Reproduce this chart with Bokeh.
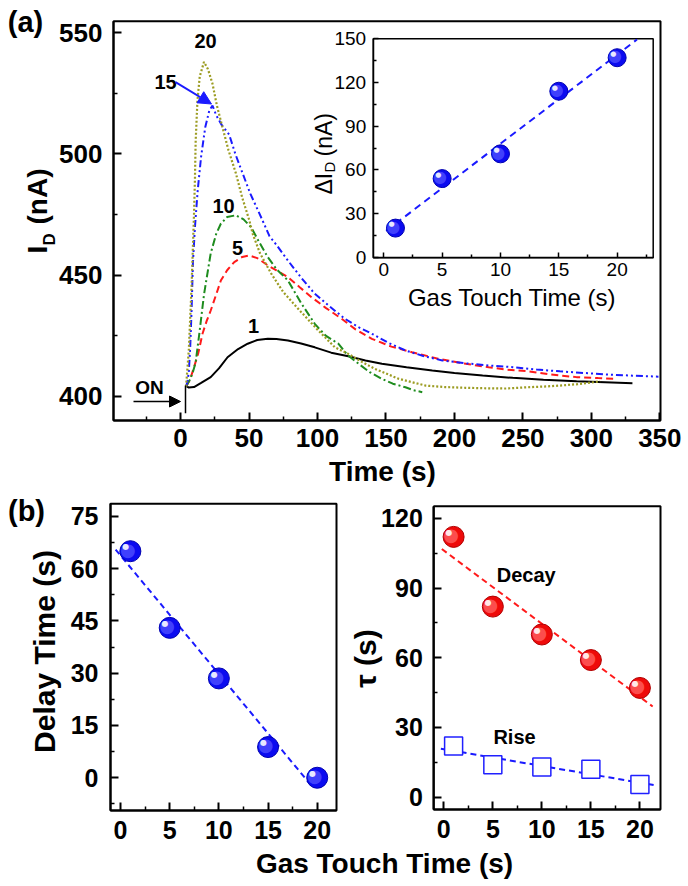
import math
import numpy as np
from bokeh.plotting import figure
from bokeh.models import Range1d, LinearAxis, FixedTicker, Label, Arrow, NormalHead
from bokeh.embed import file_html
from bokeh.resources import INLINE
from bokeh.core.properties import value

FONT = "Liberation Sans"

# ---------------- data ----------------
# panel (a): drain current transients, one per gas touch time (s)
c1_t = [3.7, 6, 9.8, 15, 22, 28, 34.3, 42, 49, 56, 63.7, 70, 78.4, 88, 98, 110, 122.5, 135, 147, 165, 183.8, 200, 220.6, 242.6, 265, 289.2, 310, 330]
c1_i = [404.4, 403.6, 403.8, 405.5, 407.9, 411.5, 416.1, 419.5, 421.7, 423.2, 423.7, 423.6, 423.0, 421.8, 420.2, 418.0, 416.5, 414.8, 413.4, 412.0, 410.6, 409.6, 408.6, 407.6, 406.8, 406.2, 405.8, 405.4]

c5_t = [4, 7, 9.8, 13, 16, 19, 22, 26, 29.4, 34, 39.2, 45, 50.2, 56, 63.8, 70, 78.4, 87, 95.6, 106, 117.6, 128, 139.7, 154, 169, 188, 208.3, 225, 237.7, 252.4, 270, 289.2, 305, 318]
c5_i = [404, 407, 412, 418, 425.8, 431, 435.4, 442, 447.8, 452, 455.4, 457.5, 458.1, 457, 454, 452, 449.2, 445, 440.9, 436.5, 432, 427.5, 423.7, 420.5, 418.2, 415.5, 413.4, 412, 411, 410.4, 409, 407.9, 407.5, 407.2]

c10_t = [4, 7, 9, 11, 13.5, 17.1, 22, 26, 29.4, 34, 40.4, 46, 51.5, 57, 63.7, 70, 78.4, 88, 98, 106, 115.2, 122, 130, 138, 147, 155, 164.2, 170, 176.5]
c10_i = [404, 407, 410, 414, 425, 442, 459, 467, 471.2, 474, 474.7, 473, 469.8, 464, 457.4, 452.5, 447.8, 438.5, 429.9, 425, 421.7, 417, 413.4, 410, 407.2, 405.2, 403.7, 402.5, 401.7]

c15_t = [4, 5, 6, 7, 8, 9, 10.5, 12.5, 15, 18, 21, 23.3, 26, 30, 35.5, 40, 45.3, 51, 57.6, 65, 70, 78.4, 88, 98, 109, 120, 130, 139.7, 152, 164.2, 178, 191.2, 208, 225.5, 242.6, 260, 277, 295, 311, 330, 349]
c15_i = [404, 406, 410, 420, 435, 455, 470, 485, 499, 511, 518, 520, 516, 512, 508, 500, 492, 483.5, 475.4, 466, 462.5, 456, 449, 442.3, 437, 432, 428.5, 425.8, 422, 418.9, 416.5, 414.8, 413.6, 412.7, 412, 411, 410.3, 409.6, 409, 408.5, 408.1]

c20_t = [4, 6, 8, 9.8, 10.5, 11, 12.3, 14, 17.1, 20, 23.3, 26.5, 30.6, 35, 40.4, 45, 50.2, 52.7, 58, 66.2, 75, 87, 100, 112.7, 122.5, 132, 142, 159.3, 179, 193, 208, 222, 237.7, 252.5, 265, 277, 290, 301.5, 306.4]
c20_i = [404, 419, 445, 475, 490, 505, 522, 532, 538, 535, 529, 520, 511, 501.5, 492, 482, 472.6, 467, 459, 450.6, 443, 435.4, 427.5, 420.2, 417.5, 414.3, 411.3, 407.2, 404.4, 403.8, 403.5, 403.3, 403.2, 403.7, 404, 404.4, 405, 405.8, 406.2]

curve_names = ["1", "5", "10", "15", "20"]

# inset and panel (b)
touch_time = [1, 5, 10, 15, 20]
delta_id = [20, 54, 71, 114, 137]
delay_time = [65, 43, 28.5, 8.8, 0]
tau_decay = [112, 82, 70, 59, 47]
tau_rise = [22, 14, 13, 12, 5.5]

# ticks
time_ticks = [0, 50, 100, 150, 200, 250, 300, 350]
time_minor = [-25, 25, 75, 125, 175, 225, 275, 325]
id_ticks = [400, 450, 500, 550]
id_minor = [425, 475, 525]
touch_ticks = [0, 5, 10, 15, 20]
touch_minor = [2.5, 7.5, 12.5, 17.5, 22.5]
delta_ticks = [0, 30, 60, 90, 120, 150]
delta_minor = [15, 45, 75, 105, 135]
delay_ticks = [0, 15, 30, 45, 60, 75]
delay_minor = [-7.5, 7.5, 22.5, 37.5, 52.5, 67.5]
tau_ticks = [0, 30, 60, 90, 120]
tau_minor = [15, 45, 75, 105]

# ---------------- colours ----------------
BLUE = "#1A1AFF"
RED = "#FF1A1A"
GREEN = "#1E8C1E"
OLIVE = "#9C9C22"

# ---------------- canvas ----------------
W, H = 688, 886
p = figure(width=W, height=H, x_range=Range1d(0, W), y_range=Range1d(0, H),
           output_backend="svg", toolbar_location=None,
           x_axis_type=None, y_axis_type=None,
           min_border_left=0, min_border_right=0, min_border_top=0, min_border_bottom=0)
p.xgrid.visible = False
p.ygrid.visible = False
p.outline_line_color = None
p.background_fill_color = "white"
p.border_fill_color = "white"


def P(rx, ry):
    """page pixel (from top-left) -> canvas coordinate of the base range"""
    return rx, H - ry


def add_panel(name, box, xr, yr):
    """register extra ranges so that data range (xr, yr) fills the pixel box"""
    L, T, R, B = box
    sx = (xr[1] - xr[0]) / (R - L)
    sy = (yr[1] - yr[0]) / (B - T)
    p.extra_x_ranges[name + "x"] = Range1d(xr[0] - L * sx, xr[1] + (W - R) * sx)
    p.extra_y_ranges[name + "y"] = Range1d(yr[0] - (H - B) * sy, yr[1] + T * sy)
    return dict(x_range_name=name + "x", y_range_name=name + "y")


def style_axis(ax, ticks, minor, size, bold=True, tin=8, min_in=4, standoff=10, lw=2):
    ax.ticker = FixedTicker(ticks=ticks, minor_ticks=minor)
    ax.axis_line_width = lw
    ax.axis_line_color = "black"
    ax.major_tick_in = tin
    ax.major_tick_out = 0
    ax.minor_tick_in = min_in
    ax.minor_tick_out = 0
    ax.major_tick_line_width = lw
    ax.minor_tick_line_width = 1.5
    ax.major_label_text_font = FONT
    ax.major_label_text_font_size = f"{size}px"
    ax.major_label_text_font_style = "bold" if bold else "normal"
    ax.major_label_text_color = "black"
    ax.major_label_standoff = standoff


def axes(rn, xr, yr, xt, xm, yt, ym, size, bold=True, tin=8, min_in=4, xs=10, ys=11, lw=2):
    bx = LinearAxis(fixed_location=yr[0], bounds=xr, **rn)
    style_axis(bx, xt, xm, size, bold, tin, min_in, xs, lw)
    p.add_layout(bx, "below")
    ly = LinearAxis(fixed_location=xr[0], bounds=yr, **rn)
    style_axis(ly, yt, ym, size, bold, tin, min_in, ys, lw)
    p.add_layout(ly, "left")


def frame(rn, xr, yr, lw=2, fill=None):
    p.quad(left=xr[0], right=xr[1], bottom=yr[0], top=yr[1], fill_color=fill,
           line_color="black", line_width=lw, **rn)


def spheres(xs, ys, size, base, rim, mid, hi, **rn):
    n = len(xs)
    p.scatter(xs, ys, size=size, fill_color=base, line_color=rim, line_width=1, **rn)
    p.text(xs, ys, text=["\u25CF"] * n, text_font=value("DejaVu Sans"),
           text_font_size=f"{int(size * 0.9)}px", text_color=mid, text_alpha=0.85,
           text_align="center", text_baseline="middle",
           x_offset=-size * 0.12, y_offset=-size * 0.10, **rn)
    p.text(xs, ys, text=["\u25CF"] * n, text_font=value("DejaVu Sans"),
           text_font_size=f"{int(size * 0.4)}px", text_color=hi,
           text_align="center", text_baseline="middle",
           x_offset=-size * 0.22, y_offset=-size * 0.20, **rn)


def lab(rx, ry, text, size, bold=True, align="center", baseline="middle", angle=0.0):
    x, y = P(rx, ry)
    p.add_layout(Label(x=x, y=y, text=text, text_font=FONT, text_font_size=f"{size}px",
                       text_font_style="bold" if bold else "normal", text_color="black",
                       text_align=align, text_baseline=baseline, angle=angle))


def arrow(r0, r1, color, lw, head):
    x0, y0 = P(*r0)
    x1, y1 = P(*r1)
    end = NormalHead(size=head, fill_color=color, line_color=color) if head else None
    p.add_layout(Arrow(end=end, x_start=x0, y_start=y0, x_end=x1, y_end=y1,
                       line_color=color, line_width=lw))


R90 = math.pi / 2

# ---------------- panel (a) ----------------
XA = (-49, 350.5)
YA = (390, 554.8)
ra = add_panel("a", (113, 20.7, 660, 420), XA, YA)
frame(ra, XA, YA)
p.line(c1_t, c1_i, line_color="black", line_width=2, **ra)
p.line(c5_t, c5_i, line_color=RED, line_width=2, line_dash="7 4", **ra)
p.line(c10_t, c10_i, line_color=GREEN, line_width=2, line_dash="8 3 2 3", **ra)
p.line(c15_t, c15_i, line_color=BLUE, line_width=2, line_dash="7 3 2 3 2 3", **ra)
p.line(c20_t, c20_i, line_color=OLIVE, line_width=2.2, line_dash="2 2", **ra)
axes(ra, XA, YA, time_ticks, time_minor, id_ticks, id_minor, 26, xs=8, ys=11)

for name, pos in zip(curve_names, [(253, 325), (237, 247.5), (223, 205), (165, 81.7), (205, 40.3)]):
    lab(pos[0], pos[1], name, 20)
lab(149, 386.5, "ON", 19)
lab(25, 21, "(a)", 29)
lab(382, 471, "Time (s)", 28)

arrow((133, 401), (180, 401), "black", 1.5, 11)
arrow((185, 385), (185, 412.7), "black", 1.5, None)
arrow((175, 81.7), (211, 103.5), BLUE, 2, 13)

# y title I_D (nA)
lab(37, 253, "I", 28, align="left", baseline="alphabetic", angle=R90)
lab(49, 245, "D", 17, align="left", baseline="alphabetic", angle=R90)
lab(37, 224, "(nA)", 28, align="left", baseline="alphabetic", angle=R90)

# ---------------- inset ----------------
IX = (-0.91, 23.09)
IY = (-0.4, 150)
ri = add_panel("i", (372.7, 38.3, 652.7, 257.3), IX, IY)
frame(ri, IX, IY, lw=1.5, fill="white")
k1, b1 = np.polyfit(touch_time, delta_id, 1)
fx = np.array([0.2, 21.7])
p.line(fx, k1 * fx + b1, line_color=BLUE, line_width=2, line_dash="7 5", **ri)
spheres(touch_time, delta_id, 18, "#0B0BF0", "#0000B0", "#4A4AFF", "#E8E8FF", **ri)
axes(ri, IX, IY, touch_ticks, touch_minor, delta_ticks, delta_minor, 19, bold=False,
     tin=5, min_in=3, xs=5, ys=7, lw=1.5)
lab(511.7, 297, "Gas Touch Time (s)", 24, bold=False)
lab(323, 194, "\u0394I", 23, bold=False, align="left", baseline="alphabetic", angle=R90)
lab(329, 172, "D", 15, bold=False, align="left", baseline="alphabetic", angle=R90)
lab(323, 156, "(nA)", 23, bold=False, align="left", baseline="alphabetic", angle=R90)

# ---------------- panel (b) left: delay time ----------------
XB1 = (-1.02, 21.96)
YB1 = (-9.4, 78.6)
rb1 = add_panel("b1", (110, 503.3, 336, 810), XB1, YB1)
frame(rb1, XB1, YB1)
k2, b2 = np.polyfit(touch_time, delay_time, 1)
fx2 = np.array([-0.5, 19.5])
p.line(fx2, k2 * fx2 + b2, line_color=BLUE, line_width=2, line_dash="6 4", **rb1)
spheres(touch_time, delay_time, 21, "#0B0BF0", "#0000B0", "#4A4AFF", "#E8E8FF", **rb1)
axes(rb1, XB1, YB1, touch_ticks, touch_minor[:-1], delay_ticks, delay_minor, 25, xs=10, ys=12)
lab(26, 510, "(b)", 29)
lab(44, 651, "Delay Time (s)", 30, angle=R90)

# ---------------- panel (b) right: time constants ----------------
XB2 = (-1.02, 22.1)
YB2 = (-5.3, 125.2)
rb2 = add_panel("b2", (433.3, 505.7, 660, 809), XB2, YB2)
frame(rb2, XB2, YB2)
k3, b3 = np.polyfit(touch_time, tau_decay, 1)
fx3 = np.array([-0.2, 21.3])
p.line(fx3, k3 * fx3 + b3, line_color=RED, line_width=2, line_dash="6 4", **rb2)
k4, b4 = np.polyfit(touch_time, tau_rise, 1)
fx4 = np.array([-0.3, 21.4])
p.line(fx4, k4 * fx4 + b4, line_color=BLUE, line_width=2, line_dash="6 4", **rb2)
spheres(touch_time, tau_decay, 21, "#EE0A0A", "#B00000", "#FF5A5A", "#FFE8E8", **rb2)
p.scatter(touch_time, tau_rise, marker="square", size=18, fill_color="white",
          line_color="#2020FF", line_width=1.5, **rb2)
axes(rb2, XB2, YB2, touch_ticks, touch_minor[:-1], tau_ticks, tau_minor, 25, xs=10, ys=11)
lab(365, 658, "\u03C4 (s)", 30, angle=R90)
lab(525.7, 574.3, "Decay", 20)
lab(514, 736.7, "Rise", 20)

lab(384, 863, "Gas Touch Time (s)", 28)

open("out.html", "w").write(file_html(p, INLINE))
